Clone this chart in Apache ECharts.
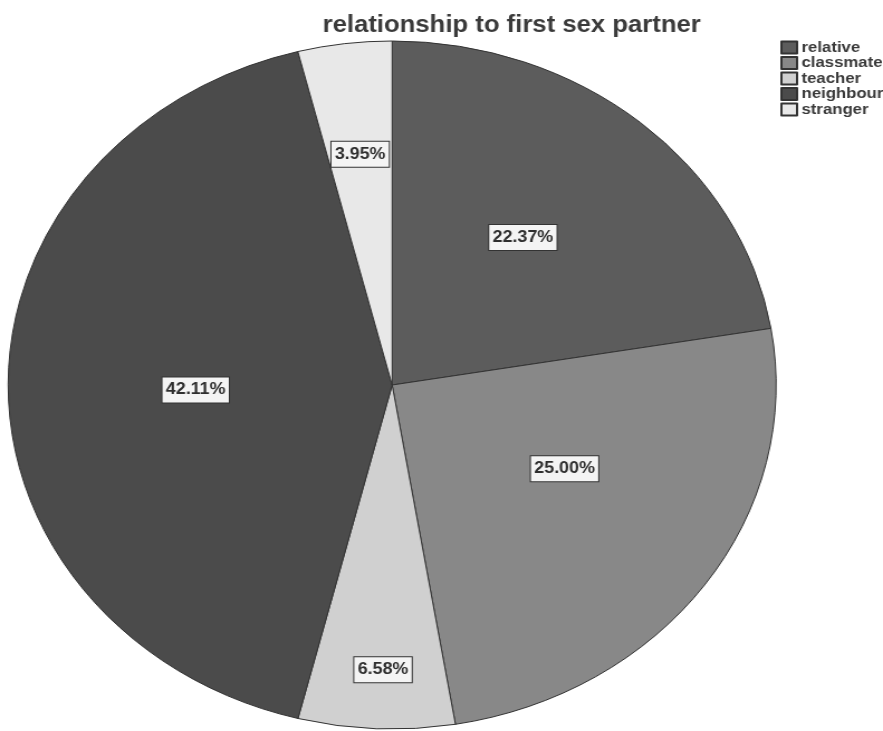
<!DOCTYPE html>
<html>
<head>
<meta charset="utf-8">
<script src="https://cdn.jsdelivr.net/npm/echarts@6/dist/echarts.min.js"></script>
<style>
  html, body { margin: 0; padding: 0; background: #ffffff; overflow: hidden; }
  #wrap { width: 883px; height: 731px; overflow: hidden; }
  #chart { width: 791px; height: 731px; transform: scaleX(1.11631); transform-origin: 0 0; }
</style>
</head>
<body>
<div id="wrap"><div id="chart"></div></div>
<script>
const categories = ['relative', 'classmate', 'teacher', 'neighbour', 'stranger'];
const percents = [22.37, 25.00, 6.58, 42.11, 3.95];
const sliceColors = ['#5c5c5c', '#888888', '#d0d0d0', '#4b4b4b', '#e8e8e8'];
const labelOffsets = [[4, -14], [12, -18], [-1, 110], [-1, 5], [-7, -57]];

const FONT = '"Liberation Sans", Arial, Helvetica, sans-serif';

const chart = echarts.init(document.getElementById('chart'), null, { renderer: 'canvas' });

const data = categories.map((name, i) => ({
  name: name,
  value: percents[i],
  itemStyle: { color: sliceColors[i] },
  label: { offset: labelOffsets[i] }
}));

chart.setOption({
  backgroundColor: '#ffffff',
  animation: false,
  title: {
    text: 'relationship to first sex partner',
    left: 289,
    top: 14,
    padding: 0,
    textStyle: { fontFamily: FONT, fontSize: 23, fontWeight: 'bold', color: '#3a3a3a' }
  },
  legend: {
    orient: 'vertical',
    left: 699,
    top: 40,
    padding: 0,
    icon: 'rect',
    itemWidth: 14,
    itemHeight: 12,
    itemGap: 0.5,
    data: categories,
    textStyle: { fontFamily: FONT, fontSize: 15, fontWeight: 'bold', color: '#3a3a3a', lineHeight: 14, padding: [0, 0, 0, -1] }
  },
  series: [{
    type: 'pie',
    center: [351.3, 385],
    radius: [0, 344],
    startAngle: 90,
    clockwise: true,
    avoidLabelOverlap: false,
    itemStyle: { borderColor: '#333333', borderWidth: 1 },
    labelLine: { show: false },
    label: {
      show: true,
      position: 'inside',
      formatter: p => p.value.toFixed(2) + '%',
      fontFamily: FONT,
      fontSize: 16,
      fontWeight: 'bold',
      color: '#2e2e2e',
      backgroundColor: '#f4f4f4',
      borderColor: '#333333',
      borderWidth: 1,
      padding: [5, 3, 4, 3]
    },
    emphasis: { disabled: true },
    data: data
  }]
});
</script>
</body>
</html>
